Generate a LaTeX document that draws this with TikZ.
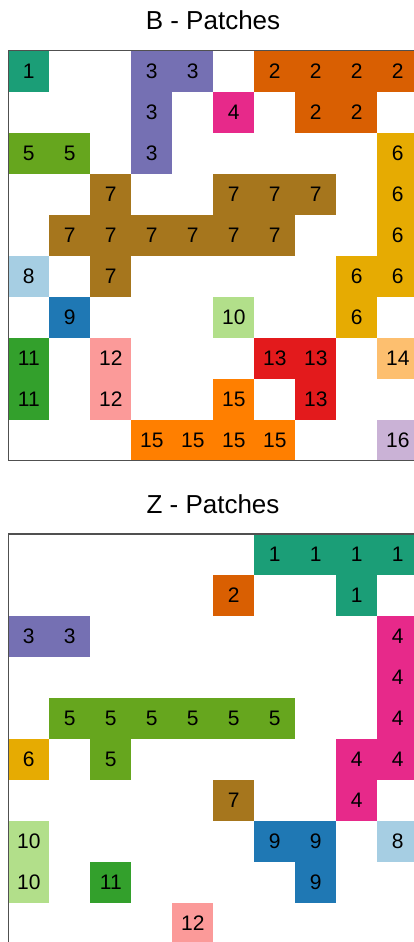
\documentclass[tikz,border=0pt]{standalone}
\usepackage{fontspec}
\setmainfont{Liberation Sans}
\definecolor{p1}{HTML}{1B9E77}
\definecolor{p2}{HTML}{D95F02}
\definecolor{p3}{HTML}{7570B3}
\definecolor{p4}{HTML}{E7298A}
\definecolor{p5}{HTML}{66A61E}
\definecolor{p6}{HTML}{E6AB02}
\definecolor{p7}{HTML}{A6761D}
\definecolor{p8}{HTML}{A6CEE3}
\definecolor{p9}{HTML}{1F78B4}
\definecolor{p10}{HTML}{B2DF8A}
\definecolor{p11}{HTML}{33A02C}
\definecolor{p12}{HTML}{FB9A99}
\definecolor{p13}{HTML}{E31A1C}
\definecolor{p14}{HTML}{FDBF6F}
\definecolor{p15}{HTML}{FF7F00}
\definecolor{p16}{HTML}{CAB2D6}
\definecolor{framegray}{HTML}{505050}
\begin{document}
\begin{tikzpicture}[x=1pt,y=-1pt,
  cell/.style={rectangle, minimum width=41.3pt, minimum height=41.3pt, inner sep=0pt, outer sep=0pt,
    font=\fontsize{21}{21}\selectfont, text=black},
  gridframe/.style={draw=framegray, line width=1.1pt, rectangle, minimum width=410pt, minimum height=410pt,
    inner sep=0pt, outer sep=0pt, anchor=north west},
  paneltitle/.style={font=\fontsize{26}{26}\selectfont, anchor=base, inner sep=0pt}]
\useasboundingbox (0,0) rectangle (414,942);
\clip (0,0) rectangle (414,942);
\fill[white] (0,0) rectangle (414,942);
% B grid
\node[paneltitle] (titleB) at (213,29.3) {B - Patches};
\foreach \r/\c/\v in {0/0/1,0/3/3,0/4/3,0/6/2,0/7/2,0/8/2,0/9/2,
  1/3/3,1/5/4,1/7/2,1/8/2,
  2/0/5,2/1/5,2/3/3,2/9/6,
  3/2/7,3/5/7,3/6/7,3/7/7,3/9/6,
  4/1/7,4/2/7,4/3/7,4/4/7,4/5/7,4/6/7,4/9/6,
  5/0/8,5/2/7,5/8/6,5/9/6,
  6/1/9,6/5/10,6/8/6,
  7/0/11,7/2/12,7/6/13,7/7/13,7/9/14,
  8/0/11,8/2/12,8/5/15,8/7/13,
  9/3/15,9/4/15,9/5/15,9/6/15,9/9/16}
  \node[cell, fill=p\v] (b-\r-\c) at ({8.3+41*\c+20.5},{50.8+41*\r+20.5}) {\v};
\node[gridframe] (frameB) at (8.3,50.8) {};
% Z grid
\node[paneltitle] (titleZ) at (213,513) {Z - Patches};
\foreach \r/\c/\v in {0/6/1,0/7/1,0/8/1,0/9/1,
  1/5/2,1/8/1,
  2/0/3,2/1/3,2/9/4,
  3/9/4,
  4/1/5,4/2/5,4/3/5,4/4/5,4/5/5,4/6/5,4/9/4,
  5/0/6,5/2/5,5/8/4,5/9/4,
  6/5/7,6/8/4,
  7/0/10,7/6/9,7/7/9,7/9/8,
  8/0/10,8/2/11,8/7/9,
  9/4/12}
  \node[cell, fill=p\v] (z-\r-\c) at ({8.3+41*\c+20.5},{534+41*\r+20.5}) {\v};
\node[gridframe] (frameZ) at (8.3,534) {};
\end{tikzpicture}
\end{document}
